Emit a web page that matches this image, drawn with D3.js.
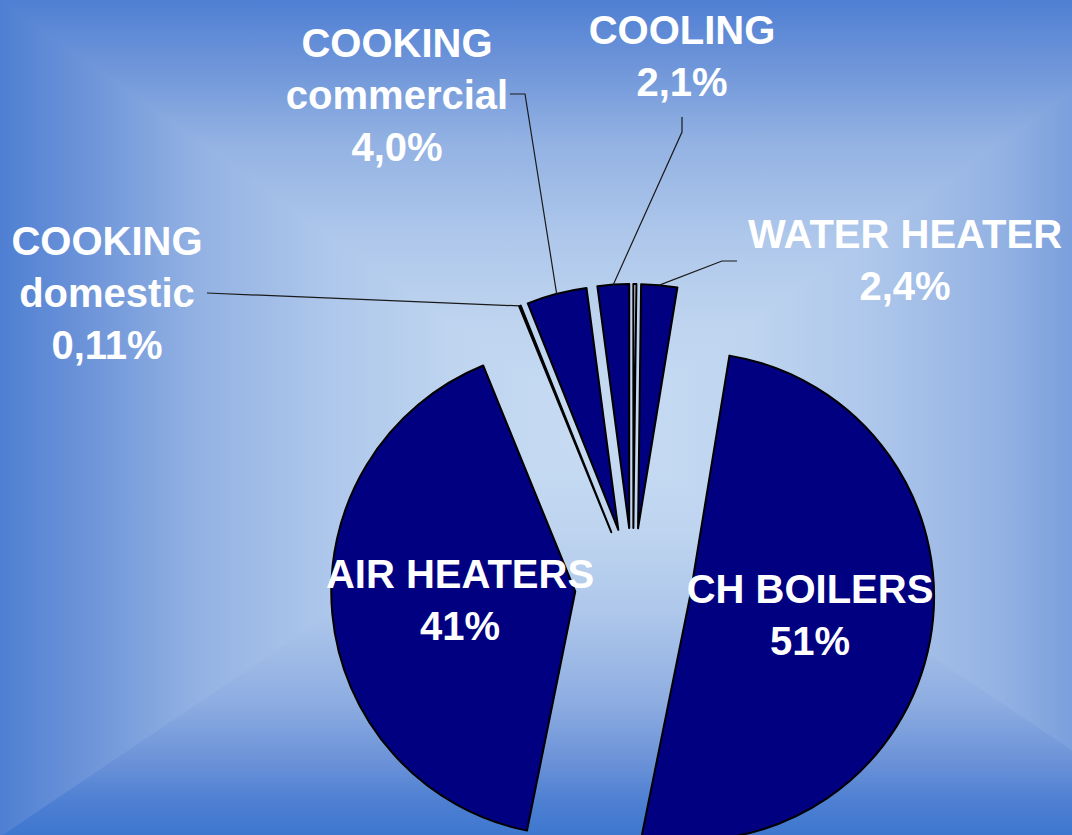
<!DOCTYPE html>
<html>
<head>
<meta charset="utf-8">
<script src="https://cdn.jsdelivr.net/npm/d3@7"></script>
<style>
body { margin:0; padding:0; overflow:hidden; }
#showChart { width:1072px; height:835px; }
</style>
</head>
<body>
<div id="showChart"></div>
<script>
// slice data, clockwise from 12 o'clock
var categories = ["", "WATER HEATER", "CH BOILERS", "AIR HEATERS", "COOKING domestic", "COOKING commercial", "COOLING"];
var values = [0.2, 2.4, 51, 41, 0.11, 4.0, 2.1];
var pctText = ["", "2,4%", "51%", "41%", "0,11%", "4,0%", "2,1%"];
var labelLines = [[], ["WATER HEATER"], ["CH BOILERS"], ["AIR HEATERS"], ["COOKING", "domestic"], ["COOKING", "commercial"], ["COOLING"]];

var width = 1072, height = 835;

// label placement (labels were dragged by hand in the original)
var labelLayout = [
  null,
  { x: 905, y: 248, leader: [[737, 261], [722, 261]] },
  { x: 810, y: 603, leader: null },
  { x: 460, y: 588, leader: null },
  { x: 107, y: 255, leader: [[207, 293]] },
  { x: 397, y: 57, leader: [[510, 94], [525, 94]] },
  { x: 682, y: 44, leader: [[682, 117], [682, 132]] }
];

var svg = d3.select("#showChart")
    .append("svg")
    .attr("width", width)
    .attr("height", height);

var defs = svg.append("defs");

// background: rectangular "from centre" gradient made of four triangles
// (the slide is wider than the picture, so the right edge sits inside it)
var gx = 600, gy = 430, bgW = 1200;
var centreCol = "#c8dcf3";
var sideStops = [[0,"#4f7fd3"],[0.15,"#6e95d9"],[0.33,"#93b2e3"],[0.55,"#aec7eb"],[0.75,"#bed4ef"],[1,centreCol]];
var bottomStops = [[0,"#3e77cf"],[0.08,"#4d7fd2"],[0.18,"#6b92d8"],[0.33,"#8eade1"],[0.55,"#aec7eb"],[0.75,"#bed4ef"],[1,centreCol]];
var bgSides = [
  { id: "bgTop", pts: [[0,0],[bgW,0],[gx,gy]], from: [0,0], to: [0,gy], stops: sideStops },
  { id: "bgBottom", pts: [[0,height],[bgW,height],[gx,gy]], from: [0,height], to: [0,gy], stops: bottomStops },
  { id: "bgLeft", pts: [[0,0],[0,height],[gx,gy]], from: [0,0], to: [gx,0], stops: sideStops },
  { id: "bgRight", pts: [[bgW,0],[bgW,height],[gx,gy]], from: [bgW,0], to: [gx,0], stops: sideStops }
];

svg.append("rect")
    .attr("width", width)
    .attr("height", height)
    .attr("fill", "#8eade1");

bgSides.forEach(function(s) {
  var g = defs.append("linearGradient")
      .attr("id", s.id)
      .attr("gradientUnits", "userSpaceOnUse")
      .attr("x1", s.from[0]).attr("y1", s.from[1])
      .attr("x2", s.to[0]).attr("y2", s.to[1]);
  s.stops.forEach(function(st) {
    g.append("stop").attr("offset", st[0]).attr("stop-color", st[1]);
  });
  svg.append("polygon")
      .attr("points", s.pts.map(function(p) { return p.join(","); }).join(" "))
      .attr("fill", "url(#" + s.id + ")")
      .attr("stroke", "url(#" + s.id + ")")
      .attr("stroke-width", 3)
      .attr("stroke-linejoin", "bevel");
});

// pie
var cx = 633, cy = 586, radius = 244, explode = 58;

var pie = d3.pie()
    .sort(null)
    .value(function(d) { return d; });

var arcs = pie(values);

var arc = d3.arc()
    .innerRadius(0)
    .outerRadius(radius);

var edgeArc = d3.arc()
    .innerRadius(radius)
    .outerRadius(radius);

function offset(d) {
  var mid = (d.startAngle + d.endAngle) / 2;
  return [explode * Math.sin(mid), -explode * Math.cos(mid)];
}

var pieG = svg.append("g")
    .attr("transform", "translate(" + cx + "," + cy + ")");

pieG.selectAll(".slice")
    .data(arcs)
    .enter()
    .append("path")
    .attr("class", "slice")
    .attr("transform", function(d) {
      var o = offset(d);
      return "translate(" + o[0] + "," + o[1] + ")";
    })
    .attr("d", arc)
    .attr("fill", function(d, i) { return categories[i] === "" ? "#e8f0fa" : "#000080"; })
    .attr("stroke", "#000")
    .attr("stroke-width", 2)
    .attr("stroke-linejoin", "round");

// leader lines
arcs.forEach(function(d, i) {
  var lay = labelLayout[i];
  if (!lay || !lay.leader) return;
  var o = offset(d);
  var c = edgeArc.centroid(d);
  var pts = lay.leader.slice();
  pts.push([cx + o[0] + c[0], cy + o[1] + c[1]]);
  svg.append("path")
      .attr("d", d3.line()(pts))
      .attr("fill", "none")
      .attr("stroke", "#1a1a1a")
      .attr("stroke-width", 1.2);
});

// labels
var lineH = 52;
arcs.forEach(function(d, i) {
  var lay = labelLayout[i];
  if (!lay) return;
  var lines = labelLines[i].concat([pctText[i]]);
  var t = svg.append("text")
      .attr("text-anchor", "middle")
      .attr("font-family", "'Liberation Sans', Arial, sans-serif")
      .attr("font-weight", "bold")
      .attr("font-size", 40)
      .attr("fill", "#fff");
  lines.forEach(function(s, k) {
    t.append("tspan")
        .attr("x", lay.x)
        .attr("y", lay.y + k * lineH)
        .text(s);
  });
});
</script>
</body>
</html>
